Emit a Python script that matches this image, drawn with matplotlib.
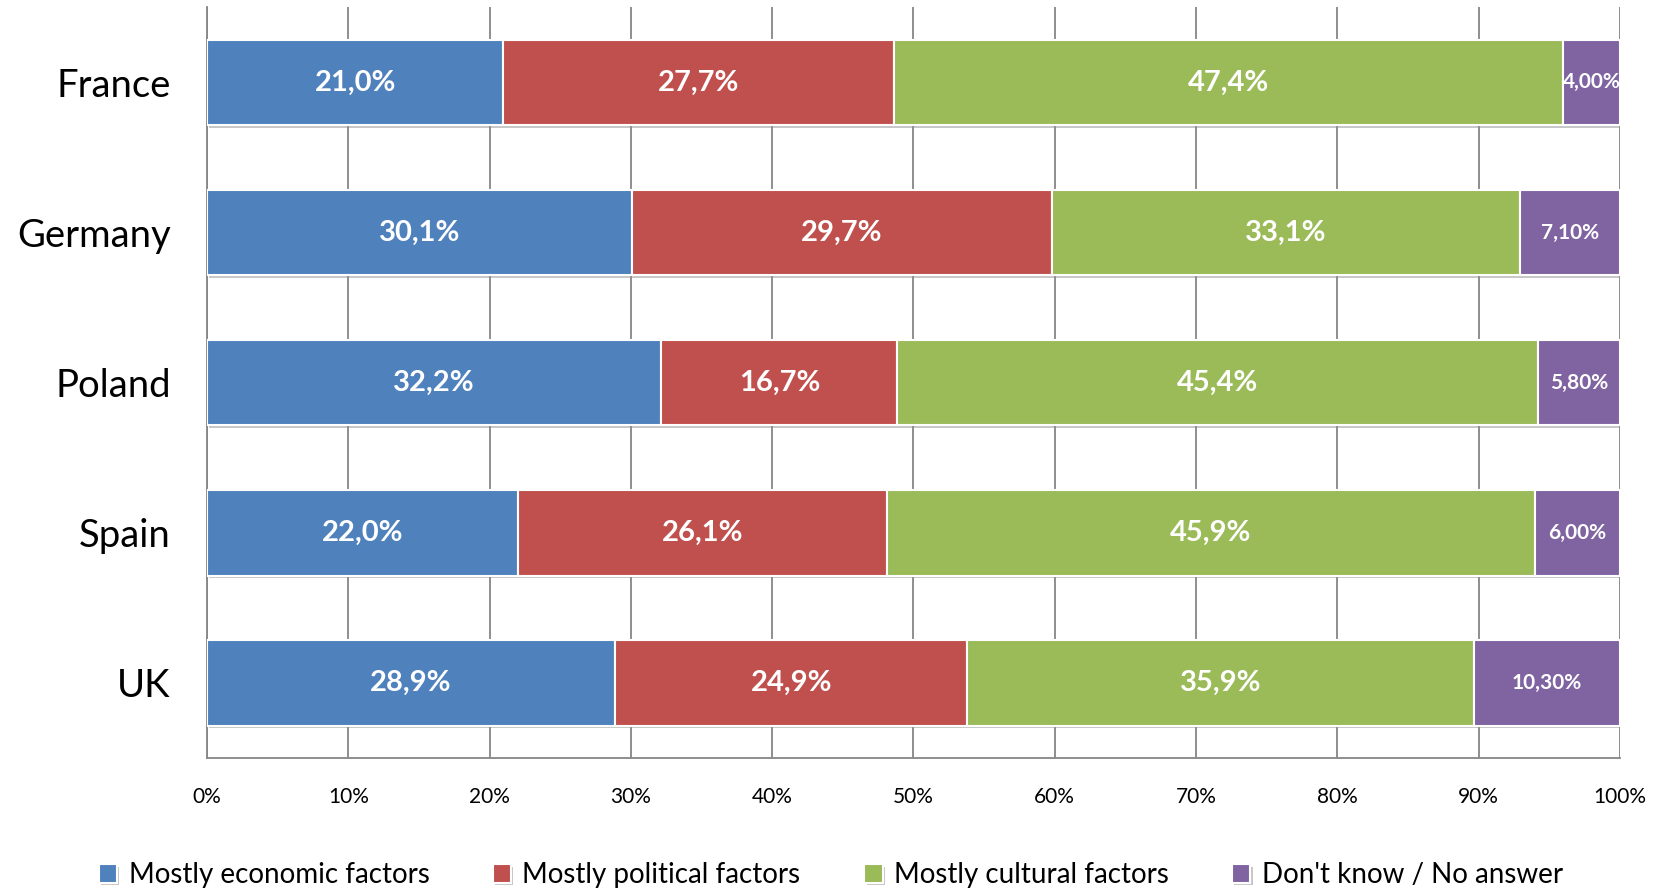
import matplotlib.pyplot as plt
import matplotlib.patheffects as pe
import numpy as np

plt.rcParams['font.family'] = ['Lato', 'DejaVu Sans']

countries = ['France', 'Germany', 'Poland', 'Spain', 'UK']
series = ['Mostly economic factors', 'Mostly political factors',
          'Mostly cultural factors', "Don't know / No answer"]
economic = [21.0, 30.1, 32.2, 22.0, 28.9]
political = [27.7, 29.7, 16.7, 26.1, 24.9]
cultural = [47.4, 33.1, 45.4, 45.9, 35.9]
dont_know = [4.0, 7.1, 5.8, 6.0, 10.3]
colors = ['#4F81BD', '#C0504D', '#9BBB59', '#8064A2']
x_ticks = [0, 10, 20, 30, 40, 50, 60, 70, 80, 90, 100]

data = np.array([economic, political, cultural, dont_know])
share = data / data.sum(axis=0) * 100  # 100% stacked

fig = plt.figure(figsize=(16.62, 8.93), dpi=100)
ax = fig.add_axes([0.1245, 0.1512, 0.8502, 0.8405])

y = np.arange(len(countries))
left = np.zeros(len(countries))
shadow = [pe.SimplePatchShadow(offset=(1.5, -2), shadow_rgbFace='#909090', alpha=0.5), pe.Normal()]
for i, (name, col) in enumerate(zip(series, colors)):
    bars = ax.barh(y, share[i], left=left, height=0.57, color=col,
                   edgecolor='white', linewidth=1.5, label=name, zorder=3)
    for b in bars:
        b.set_path_effects(shadow)
    for j in range(len(countries)):
        if i < 3:
            txt = f"{data[i, j]:.1f}%".replace('.', ',')
            fs = 21
        else:
            txt = f"{data[i, j]:.2f}%".replace('.', ',')
            fs = 15
        ax.text(left[j] + share[i, j] / 2, y[j], txt, ha='center', va='center',
                color='white', fontsize=fs, fontweight='bold', zorder=4)
    left += share[i]

ax.set_xlim(0, 100)
ax.set_ylim(len(countries) - 0.5, -0.5)
ax.set_yticks(y)
ax.set_yticklabels(countries, fontsize=27.5)
ax.set_xticks(x_ticks)
ax.set_xticklabels([f"{t}%" for t in x_ticks], fontsize=15)
ax.tick_params(axis='x', length=0, pad=21)
ax.tick_params(axis='y', length=0, pad=26)
ax.grid(axis='x', color='#868686', linewidth=1.3, zorder=0)
ax.spines['top'].set_visible(False)
ax.spines['right'].set_visible(False)
ax.spines['left'].set_color('#868686')
ax.spines['bottom'].set_color('#868686')
ax.spines['left'].set_linewidth(1.3)
ax.spines['bottom'].set_linewidth(1.3)

fig.legend(*ax.get_legend_handles_labels(), loc='center', bbox_to_anchor=(0.5, 0.02),
           ncol=4, frameon=False, fontsize=20, handlelength=0.65, handleheight=0.65,
           handletextpad=0.4, columnspacing=2.3)

fig.savefig('out.png', dpi=100)
